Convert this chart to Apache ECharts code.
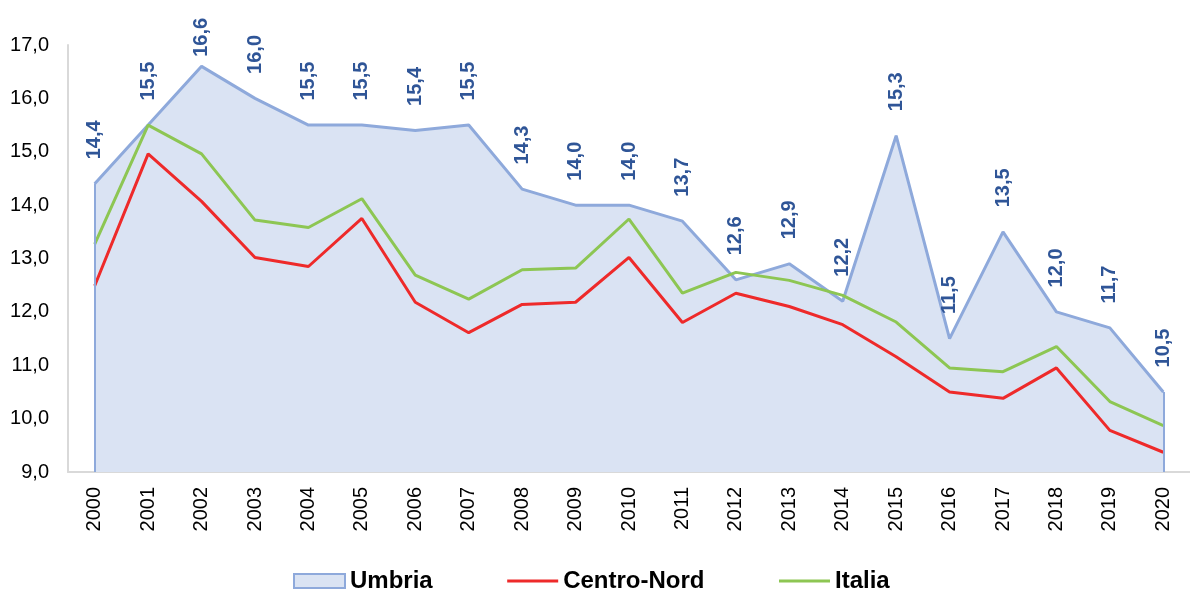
<!DOCTYPE html>
<html>
<head>
<meta charset="utf-8">
<style>
  html, body { margin: 0; padding: 0; background: #fff; }
  #chart { width: 1190px; height: 594px; }
</style>
<script src="https://cdn.jsdelivr.net/npm/echarts@6/dist/echarts.min.js"></script>
</head>
<body>
<div id="chart"></div>
<script>
// Umbria vs Centro-Nord vs Italia, 2000-2020

const years = ["2000", "2001", "2002", "2003", "2004", "2005", "2006", "2007", "2008", "2009",
  "2010", "2011", "2012", "2013", "2014", "2015", "2016", "2017", "2018", "2019", "2020"];

const umbria = [14.4, 15.5, 16.6, 16.0, 15.5, 15.5, 15.4, 15.5, 14.3, 14.0,
  14.0, 13.7, 12.6, 12.9, 12.2, 15.3, 11.5, 13.5, 12.0, 11.7, 10.5];

const centroNord = [12.49, 14.96, 14.07, 13.02, 12.85, 13.75, 12.18, 11.61, 12.14, 12.18,
  13.02, 11.80, 12.35, 12.10, 11.76, 11.16, 10.50, 10.38, 10.95, 9.78, 9.37];

const italia = [13.27, 15.50, 14.96, 13.72, 13.58, 14.12, 12.69, 12.24, 12.79, 12.82,
  13.74, 12.35, 12.74, 12.59, 12.31, 11.81, 10.95, 10.88, 11.35, 10.32, 9.87];

const Y_MIN = 9;
const Y_MAX = 17;

const FONT = "Liberation Sans, Arial, sans-serif";
const UMBRIA_LINE = "#8EA9DB";
const UMBRIA_FILL = "#DAE3F3";
const LABEL_BLUE = "#2F5597";
const RED = "#EE2A2A";
const GREEN = "#8DC653";

const fmt = (v) => v.toFixed(1).replace(".", ",");

// il picco più alto ha l'etichetta più vicina al punto (manca spazio sopra)
const peak = Math.max(...umbria);
const umbriaData = umbria.map((v) => (v === peak ? { value: v, label: { distance: 9 } } : v));

const last = years.length - 1;

const chart = echarts.init(document.getElementById("chart"), null, { renderer: "canvas" });

chart.setOption({
  animation: false,
  backgroundColor: "#fff",
  textStyle: { fontFamily: FONT },
  grid: { left: 68, right: 0, top: 45, bottom: 122 },
  legend: {
    left: 293,
    top: 569,
    padding: 0,
    itemWidth: 51,
    itemHeight: 14,
    itemGap: 73,
    textStyle: { fontFamily: FONT, fontSize: 24, fontWeight: "bold", color: "#000" },
    data: [
      { name: "Umbria", icon: "rect", itemStyle: { color: UMBRIA_FILL, borderColor: UMBRIA_LINE, borderWidth: 2 } },
      { name: "Centro-Nord", itemStyle: { opacity: 0 }, lineStyle: { width: 3 } },
      { name: "Italia", itemStyle: { opacity: 0 }, lineStyle: { width: 3 } }
    ]
  },
  xAxis: {
    type: "category",
    data: years,
    boundaryGap: true,
    axisLine: { lineStyle: { color: "#D9D9D9", width: 2 } },
    axisTick: { show: false },
    axisLabel: { rotate: 90, margin: 15, fontSize: 20, color: "#000", fontFamily: FONT }
  },
  yAxis: {
    type: "value",
    min: Y_MIN,
    max: Y_MAX,
    interval: 1,
    axisLine: { show: true, lineStyle: { color: "#D9D9D9", width: 2 } },
    axisTick: { show: false },
    splitLine: { show: false },
    axisLabel: { margin: 19, fontSize: 20, color: "#000", fontFamily: FONT, formatter: fmt }
  },
  series: [
    {
      name: "Umbria",
      type: "line",
      data: umbriaData,
      symbol: "circle",
      symbolSize: 1,
      lineStyle: { color: UMBRIA_LINE, width: 3 },
      itemStyle: { color: UMBRIA_LINE },
      areaStyle: { color: UMBRIA_FILL, opacity: 1, origin: "start" },
      label: {
        show: true,
        position: "top",
        distance: 24,
        rotate: 90,
        align: "left",
        verticalAlign: "middle",
        color: LABEL_BLUE,
        fontSize: 20,
        fontWeight: "bold",
        fontFamily: FONT,
        formatter: (p) => fmt(p.value)
      },
      // bordi verticali dell'area come nell'originale
      markLine: {
        silent: true,
        symbol: "none",
        label: { show: false },
        lineStyle: { color: UMBRIA_LINE, width: 2, type: "solid" },
        data: [
          [{ coord: [years[0], Y_MIN] }, { coord: [years[0], umbria[0]] }],
          [{ coord: [years[last], Y_MIN] }, { coord: [years[last], umbria[last]] }]
        ]
      },
      z: 1
    },
    {
      name: "Centro-Nord",
      type: "line",
      data: centroNord,
      symbol: "none",
      lineStyle: { color: RED, width: 3 },
      itemStyle: { color: RED },
      z: 3
    },
    {
      name: "Italia",
      type: "line",
      data: italia,
      symbol: "none",
      lineStyle: { color: GREEN, width: 3 },
      itemStyle: { color: GREEN },
      z: 2
    }
  ]
});
</script>
</body>
</html>
